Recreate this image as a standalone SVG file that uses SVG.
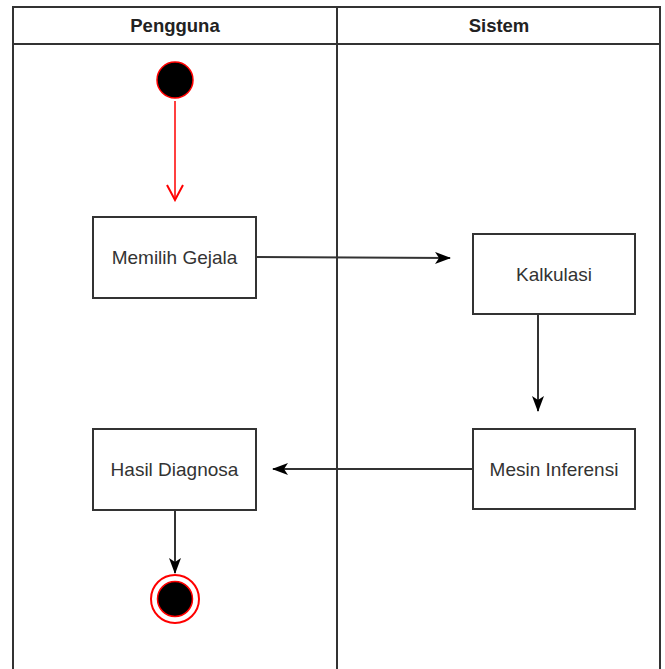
<svg xmlns="http://www.w3.org/2000/svg" width="665" height="669" viewBox="0 0 665 669">
  <style>
    .lane { fill: none; stroke: #333; stroke-width: 2; }
    .box { fill: #fff; stroke: #333; stroke-width: 2; }
    .hdr { font-family: "Liberation Sans", Arial, sans-serif; font-size: 18.5px; font-weight: bold; fill: #222; text-anchor: middle; }
    .lbl { font-family: "Liberation Sans", Arial, sans-serif; font-size: 19px; fill: #333; text-anchor: middle; }
    .edge { fill: none; stroke: #333; stroke-width: 2; }
  </style>
  <defs>
    <marker id="arrow" viewBox="0 0 16 12" refX="15" refY="6" markerWidth="16" markerHeight="12" markerUnits="userSpaceOnUse" orient="auto">
      <path d="M0,0 L16,6 L0,12 L4,6 z" fill="#000"/>
    </marker>
    <marker id="open" viewBox="0 0 18 18" refX="16" refY="9" markerWidth="18" markerHeight="18" markerUnits="userSpaceOnUse" orient="auto">
      <path d="M1,1 L16,9 L1,17" fill="none" stroke="#f00" stroke-width="2"/>
    </marker>
  </defs>
  <rect width="665" height="669" fill="#fff"/>
  <g id="swimlanes">
    <path class="lane" d="M13,680 L13,7 L660,7 L660,680"/>
    <line class="lane" x1="13" y1="44" x2="660" y2="44"/>
    <line class="lane" x1="337" y1="7" x2="337" y2="680"/>
    <text class="hdr" x="175" y="32">Pengguna</text>
    <text class="hdr" x="499" y="32">Sistem</text>
  </g>
  <g id="connectors">
    <line x1="175" y1="101" x2="175" y2="200" fill="none" stroke="#f00" stroke-width="1.5" marker-end="url(#open)"/>
    <line class="edge" x1="256" y1="257" x2="450" y2="258" marker-end="url(#arrow)"/>
    <line class="edge" x1="538" y1="315" x2="538" y2="411" marker-end="url(#arrow)"/>
    <line class="edge" x1="473" y1="469" x2="273" y2="469" marker-end="url(#arrow)"/>
    <line class="edge" x1="175" y1="510" x2="175" y2="573" marker-end="url(#arrow)"/>
  </g>
  <g id="start">
    <circle cx="175" cy="80" r="18" fill="#000" stroke="#f00" stroke-width="1.5"/>
  </g>
  <g id="memilih-gejala">
    <rect class="box" x="93" y="217" width="163" height="81"/>
    <text class="lbl" x="174.5" y="264">Memilih Gejala</text>
  </g>
  <g id="kalkulasi">
    <rect class="box" x="473" y="234" width="162" height="80"/>
    <text class="lbl" x="554" y="281">Kalkulasi</text>
  </g>
  <g id="mesin-inferensi">
    <rect class="box" x="473" y="429" width="162" height="80"/>
    <text class="lbl" x="554" y="476">Mesin Inferensi</text>
  </g>
  <g id="hasil-diagnosa">
    <rect class="box" x="93" y="429" width="163" height="81"/>
    <text class="lbl" x="174.5" y="476">Hasil Diagnosa</text>
  </g>
  <g id="end">
    <circle cx="175" cy="599" r="24" fill="#fff" stroke="#f00" stroke-width="2"/>
    <circle cx="175" cy="599" r="17.5" fill="#000" stroke="#f00" stroke-width="1.5"/>
  </g>
</svg>
